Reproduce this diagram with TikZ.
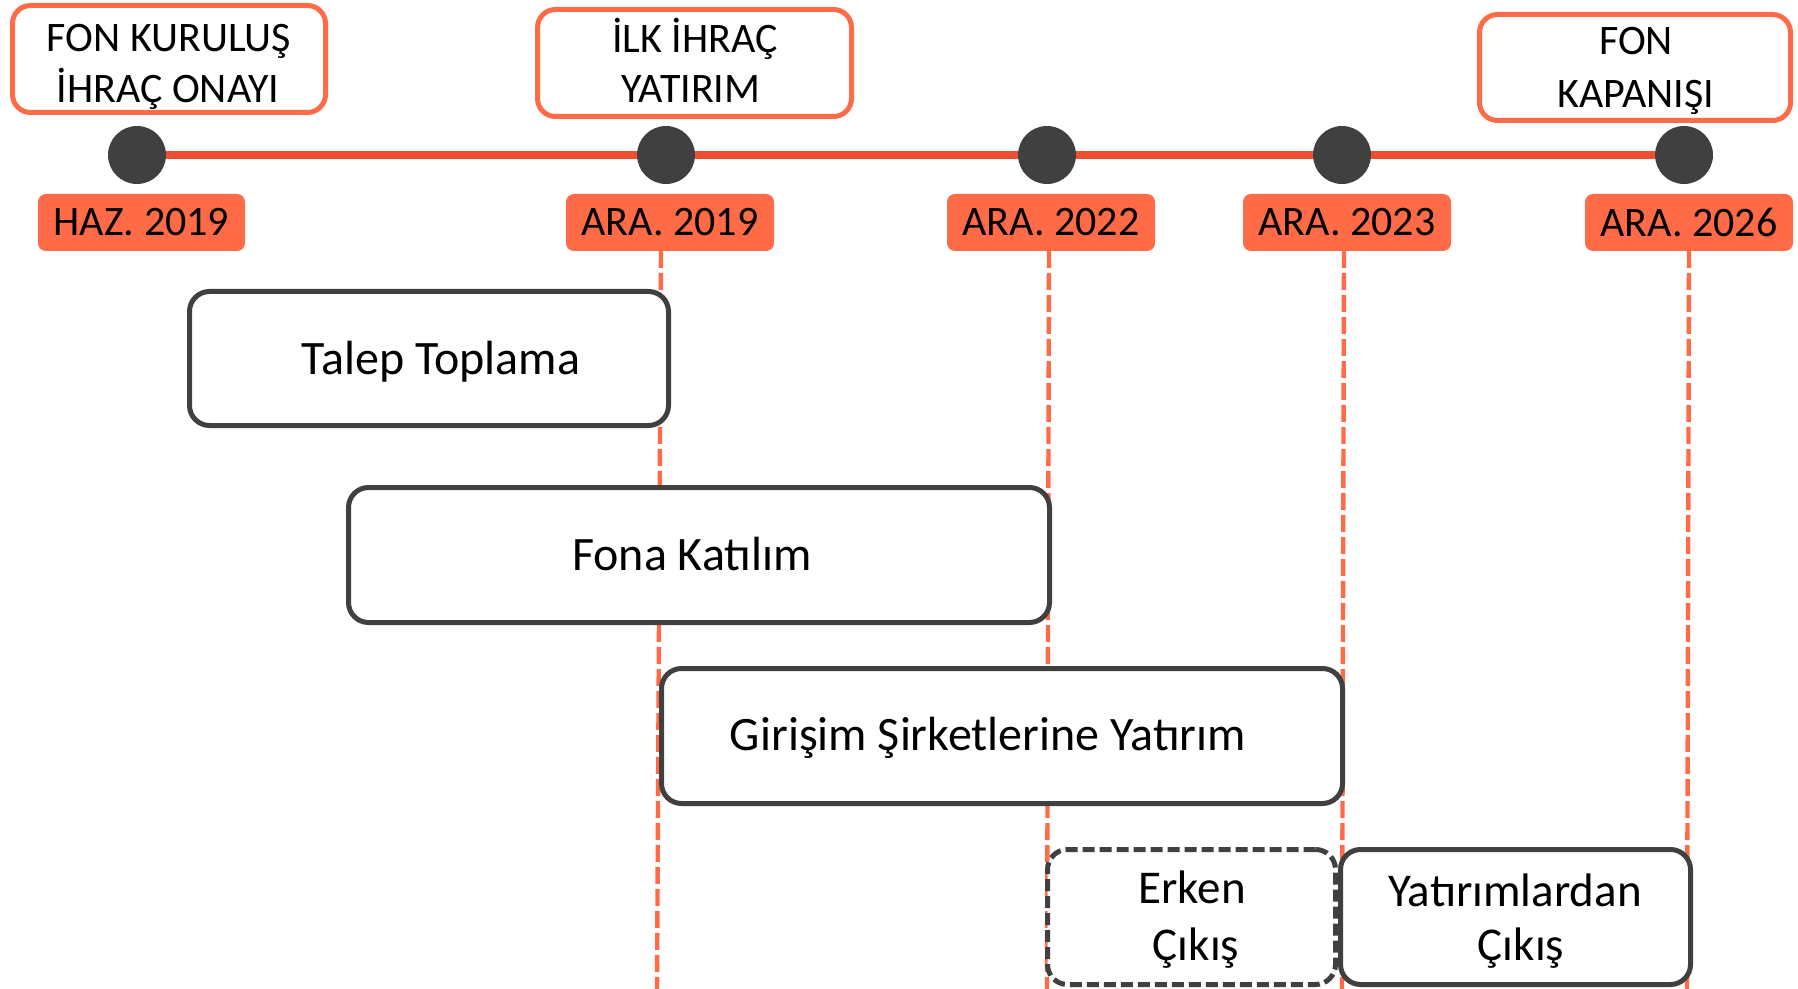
\documentclass[tikz,border=0pt]{standalone}
\usepackage{fontspec}
\setmainfont{Carlito}
\definecolor{orng}{HTML}{FF6B47}
\definecolor{tline}{HTML}{EE4F30}
\definecolor{dgray}{HTML}{404040}
\begin{document}
\begin{tikzpicture}[x=0.5pt,y=-0.5pt,
 topbox/.style={draw=orng,line width=2.5pt,rounded corners=9pt,fill=white,inner sep=0pt},
 toptext/.style={anchor=base,inner sep=0pt,font=\fontsize{21}{25}\selectfont},
 datebox/.style={fill=orng,rounded corners=4pt,font=\fontsize{21}{25}\selectfont,inner sep=0pt,minimum height=28.5pt},
 dot/.style={circle,fill=dgray,minimum size=29pt,inner sep=0pt},
 phase/.style={draw=dgray,line width=2.5pt,rounded corners=10pt,fill=white,inner sep=0pt,minimum height=68pt},
 phasetext/.style={anchor=base,inner sep=0pt,font=\fontsize{24}{28}\selectfont},
 phasetexttwo/.style={anchor=base,inner sep=0pt,font=\fontsize{23.5}{28}\selectfont},
 vdash/.style={orng,line width=2.2pt,dash pattern=on 8.5pt off 2.5pt},
 tl/.style={tline,line width=4pt}
]
\useasboundingbox (0,0) rectangle (1798,989);

% date labels
\node[datebox,minimum width=103.5pt] (d1) at (141.5,222.5) {HAZ. 2019};
\node[datebox,minimum width=104pt] (d2) at (670,222.5) {ARA. 2019};
\node[datebox,minimum width=104pt] (d3) at (1051,222.5) {ARA. 2022};
\node[datebox,minimum width=104pt] (d4) at (1347,222.5) {ARA. 2023};
\node[datebox,minimum width=104pt] (d5) at (1689,222.5) {ARA. 2026};

% vertical dashed guides
\coordinate (g2t) at (661,251); \coordinate (g2b) at (657,989);
\coordinate (g3t) at (1049,251); \coordinate (g3b) at (1047,989);
\coordinate (g4t) at (1344,251); \coordinate (g4b) at (1342,989);
\coordinate (g5t) at (1689,251); \coordinate (g5b) at (1687,989);
\draw[vdash] (g2t) -- (g2b);
\draw[vdash] (g3t) -- (g3b);
\draw[vdash] (g4t) -- (g4b);
\draw[vdash] (g5t) -- (g5b);

% timeline
\node[dot] (c1) at (137,155) {};
\node[dot] (c2) at (666,155) {};
\node[dot] (c3) at (1047,155) {};
\node[dot] (c4) at (1342,155) {};
\node[dot] (c5) at (1684,155) {};
\draw[tl] (c1) -- (c2);
\draw[tl] (c2) -- (c3);
\draw[tl] (c3) -- (c4);
\draw[tl] (c4) -- (c5);

% top milestone boxes
\node[topbox,minimum width=156.5pt,minimum height=53.5pt] (m1) at (169,59) {};
\node[toptext] (m1a) at (169,52) {FON KURULUŞ};
\node[toptext] (m1b) at (168,103) {İHRAÇ ONAYI};
\node[topbox,minimum width=157pt,minimum height=53.5pt] (m2) at (694.5,63) {};
\node[toptext] (m2a) at (695,53) {İLK İHRAÇ};
\node[toptext] (m2b) at (691,103) {YATIRIM};
\node[topbox,minimum width=155.5pt,minimum height=53pt] (m3) at (1635,67.5) {};
\node[toptext] (m3a) at (1636,55) {FON};
\node[toptext] (m3b) at (1636,108) {KAPANIŞI};

% phase boxes
\node[phase,minimum width=239.5pt,minimum height=67pt] (p1) at (429,358.5) {};
\node[phasetext] (p1t) at (441,375) {Talep Toplama};
\node[phase,minimum width=350.5pt,minimum height=67.5pt] (p2) at (699,555) {};
\node[phasetext] (p2t) at (692,570) {Fona Katılım};
\node[phase,minimum width=340.5pt,minimum height=67.5pt] (p3) at (1002,736) {};
\node[phasetext] (p3t) at (988,750) {Girişim Şirketlerine Yatırım};
\node[phase,minimum width=144pt,minimum height=67.5pt,dash pattern=on 6pt off 2.5pt] (p4) at (1191.5,917) {};
\node[phasetexttwo] (p4a) at (1192,903) {Erken};
\node[phasetexttwo] (p4b) at (1196,960) {Çıkış};
\node[phase,minimum width=175pt,minimum height=67.5pt] (p5) at (1515.5,917) {};
\node[phasetexttwo] (p5a) at (1515,906) {Yatırımlardan};
\node[phasetexttwo] (p5b) at (1521,960) {Çıkış};
\end{tikzpicture}
\end{document}
